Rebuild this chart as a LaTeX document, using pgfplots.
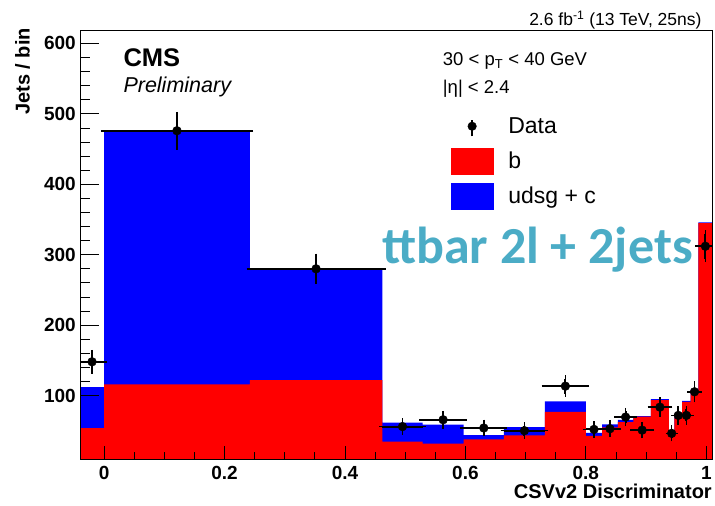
\documentclass[border=0pt]{standalone}
\usepackage{pgfplots}
\pgfplotsset{compat=1.18}
\usepackage{fontspec}
\setmainfont{Liberation Sans}
\newfontfamily\carlito{Carlito}
\definecolor{teal1}{RGB}{75,172,198}
\newcommand{\fs}[1]{\fontsize{#1}{#1}\selectfont}
\begin{document}
\begin{tikzpicture}[x=1pt,y=1pt]
\begin{axis}[
  at={(80pt,47pt)}, anchor=south west,
  scale only axis, width=632pt, height=429pt,
  xmin=-0.04, xmax=1.0095, ymin=10, ymax=619,
  axis on top,
  /pgf/number format/assume math mode=true,
  xtick={0,0.2,0.4,0.6,0.8,1}, xticklabels={0,0.2,0.4,0.6,0.8,1},
  ytick={100,200,300,400,500,600}, yticklabels={100,200,300,400,500,600},
  minor x tick num=3, minor y tick num=4,
  tick align=inside, xtick pos=bottom, ytick pos=left,
  major tick length=13pt, minor tick length=6.5pt,
  ytick style={/pgfplots/major tick length=19pt, /pgfplots/minor tick length=10pt},
  tick style={line width=0.8pt, black},
  axis line style={line width=0.9pt},
  xticklabel style={font=\bfseries\fs{19}, anchor=base, yshift=-20.3pt, inner sep=0pt},
  yticklabel style={font=\bfseries\fs{19}, anchor=east, xshift=-4pt, inner sep=0pt},
  legend style={at={(axis description cs:0.5866,0.808)}, anchor=north west, draw=none, fill=none,
    inner sep=0pt, font=\fs{23}, row sep=8pt, column sep=15pt,
    nodes={inner sep=0pt, text height=21pt, text depth=6pt, anchor=base west}},
  legend cell align=left,
]
\addlegendimage{legend image code/.code={\path (0pt,0pt) (42pt,0pt); \draw[line width=1.8pt] (21pt,-2.7pt) -- (21pt,13.3pt); \fill (21pt,7.3pt) circle (4.3pt);}}
\addlegendentry{Data}
\addlegendimage{legend image code/.code={\fill[red] (0pt,-5.7pt) rectangle (42pt,20pt);}}
\addlegendentry{b}
\addlegendimage{legend image code/.code={\fill[blue] (0pt,-5.7pt) rectangle (42pt,20pt);}}
\addlegendentry{udsg + c}
% total (b + udsg + c)
\addplot[fill=blue, draw=none, const plot mark left, forget plot] coordinates {
(-0.04,112) (0,474) (0.242,281) (0.462,61.5) (0.529,58.7) (0.597,44) (0.664,55.3)
(0.732,91.7) (0.80,47) (0.827,59) (0.853,65.5) (0.879,71) (0.908,95) (0.938,49)
(0.947,69.5) (0.960,92.5) (0.974,108.5) (0.987,346) (1.01,346)} \closedcycle;
% b
\addplot[fill=red, draw=none, const plot mark left, forget plot] coordinates {
(-0.04,54) (0,116) (0.242,122) (0.462,34.5) (0.529,32) (0.597,38) (0.664,43.5)
(0.732,77) (0.80,43) (0.827,55) (0.853,62.5) (0.879,70) (0.908,93.5) (0.938,48)
(0.947,68.6) (0.960,91.2) (0.974,107.7) (0.987,345) (1.01,345)} \closedcycle;
% data
\addplot[only marks, mark=*, mark size=4.4pt, black, forget plot,
  error bars/.cd, x dir=both, x explicit, y dir=both, y explicit,
  error bar style={line width=1.9pt, black},
  error mark options={line width=1.6pt, mark size=3.3pt, black}]
coordinates {
(-0.02,148) +- (0.02,12.2)
(0.121,476) +- (0.121,22)
(0.352,280) +- (0.11,17)
(0.4955,56) +- (0.0335,7.5)
(0.563,65.7) +- (0.034,8.1)
(0.6305,54) +- (0.0335,7.3)
(0.698,50.2) +- (0.034,7.1)
(0.766,113.4) +- (0.034,10.6)
(0.8135,52) +- (0.0135,7.2)
(0.840,53) +- (0.013,7.3)
(0.866,69.5) +- (0.013,8.3)
(0.8935,51) +- (0.0145,7.1)
(0.923,83.6) +- (0.015,9.1)
(0.9425,46.4) +- (0.0045,6.8)
(0.9535,71.9) +- (0.0065,8.5)
(0.967,71.9) +- (0.007,8.5)
(0.9805,105.4) +- (0.0065,10.3)
(0.9985,312) +- (0.0115,17.7)
};
\end{axis}
\node[anchor=base east, inner sep=0pt, font=\fs{17.5}] at (701.7,480.3) {2.6 fb\textsuperscript{-1} (13 TeV, 25ns)};
\node[anchor=base west, inner sep=0pt, font=\bfseries\fs{25.5}] at (123.3,439.3) {CMS};
\node[anchor=base west, inner sep=0pt, font=\itshape\fs{21.5}] at (123.3,413.3) {Preliminary};
\node[anchor=base west, inner sep=0pt, font=\fs{18.5}] at (442.7,440) {30 < p\textsubscript{T} < 40 GeV};
\node[anchor=base west, inner sep=0pt, font=\fs{18.5}] at (442.7,412.7) {|η| < 2.4};
\node[anchor=base east, inner sep=0pt, font=\carlito\bfseries\fs{52}, text=teal1] at (693,242) {ttbar 2l + 2jets};
\node[anchor=base east, inner sep=0pt, rotate=90, font=\bfseries\fs{20}] at (29.5,478) {Jets / bin};
\node[anchor=base east, inner sep=0pt, font=\bfseries\fs{20}] at (712,7.7) {CSVv2 Discriminator};
\pgfresetboundingbox
\path[use as bounding box] (0,0) rectangle (715,506);
\end{tikzpicture}
\end{document}
